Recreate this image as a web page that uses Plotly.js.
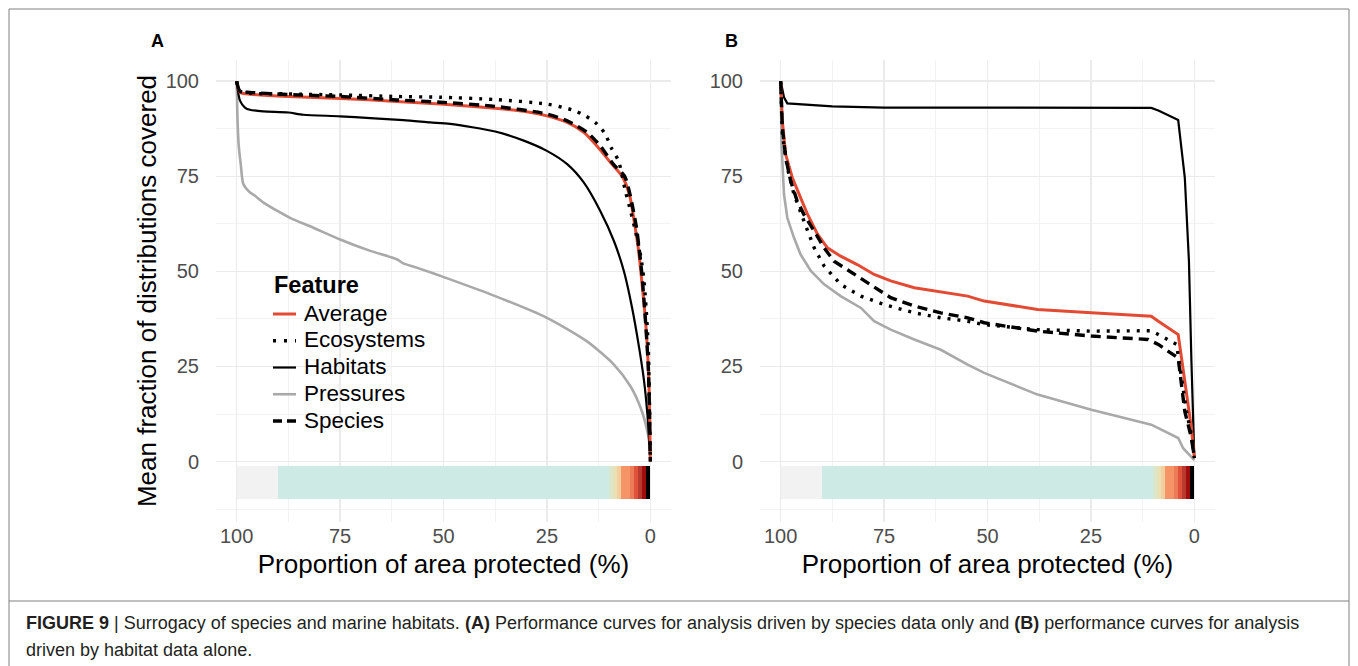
<!DOCTYPE html>
<html>
<head>
<meta charset="utf-8">
<script src="https://cdn.plot.ly/plotly-3.0.1.min.js"></script>
<style>
  html, body { margin: 0; padding: 0; background: #ffffff; }
  #chart { width: 1358px; height: 666px; }
</style>
</head>
<body>
<div id="chart"></div>
<script>
// ---------------- DATA ----------------
// Panel A: analysis driven by species data only
const A_avg_x = [100, 99.2, 97.6, 87.5, 75, 61.3, 50.8, 37.5, 30.6, 25, 20.1, 16.1, 12.9, 9.5, 6.8, 5, 3.8, 2.9, 2.3, 1.2, 0.5, 0.15, 0];
const A_avg_y = [100, 97.1, 96.7, 96, 95.5, 94.7, 94, 92.9, 92.1, 90.9, 89.2, 86.6, 83, 78.5, 75, 70, 62.5, 56, 50, 37.5, 25, 12.5, 0];

const A_eco_x = [100, 99.2, 87.5, 75, 61.3, 50.8, 37.5, 25, 18.6, 15.7, 12.9, 10.9, 9.3, 7.7, 6, 4.8, 3.6, 2.4, 1.6, 1.0, 0.5, 0.2, 0];
const A_eco_y = [100, 97.4, 96.7, 96.4, 96, 95.8, 95.2, 94, 92.4, 90.9, 88.8, 86.1, 82.2, 79.1, 71, 66, 60.6, 54.5, 48.3, 40, 30, 15, 0];

const A_hab_x = [100, 99.2, 98, 96.8, 93.5, 87.5, 83.9, 75, 67.7, 59.7, 53.2, 48.4, 37.5, 30.6, 25, 20.1, 16.1, 12.1, 8.8, 6.4, 4.4, 2.7, 1.5, 0.7, 0.2, 0];
const A_hab_y = [100, 94.9, 93.1, 92.5, 92.1, 91.8, 91.2, 90.8, 90.3, 89.8, 89.2, 88.8, 86.8, 84.4, 81.7, 78.2, 73.4, 65.9, 58, 50.1, 40.4, 29.9, 21.1, 12.3, 4, 0];

const A_pre_x = [100, 99.8, 99.5, 99, 98.4, 97, 95.6, 93.5, 89.5, 87.1, 81.5, 75, 67.7, 61.3, 59.7, 56.5, 48.4, 37.5, 25, 15.3, 8.8, 4.8, 2.3, 0.7, 0];
const A_pre_y = [100, 90, 83, 78, 73, 71, 69.9, 68.1, 65.5, 64.1, 61.5, 58.4, 55.4, 53.2, 52.1, 51, 47.9, 43.5, 37.8, 31.6, 25.5, 19.8, 14, 7.9, 3];

const A_spe_x = [100, 99.2, 96.8, 87.5, 75, 61.3, 50.8, 37.5, 25, 20.1, 15.3, 12.1, 8.8, 6.2, 3.5, 2.1, 1.2, 0.5, 0.2, 0];
const A_spe_y = [100, 97.4, 97.1, 96.5, 96, 95.1, 94.5, 93.4, 91.4, 89.6, 86.6, 83, 78, 75, 62.5, 50, 37.5, 25, 12.5, 0];

// Panel B: analysis driven by habitat data alone
const B_avg_x = [100, 99.6, 98.8, 97.2, 95.2, 93.5, 91.1, 88.7, 85.5, 81.5, 77.4, 73.4, 67.7, 61.3, 54.8, 50.8, 37.9, 24.9, 10.4, 8.7, 3.9, 2.3, 1.1, 0.7, 0];
const B_avg_y = [100, 89.6, 80.8, 74.7, 69.4, 65, 59.8, 56.2, 54, 51.8, 49.2, 47.5, 45.7, 44.6, 43.5, 42.2, 40, 39.1, 38.2, 36.9, 33.4, 21.1, 11.4, 8.8, 0.9];

const B_eco_x = [100, 99.6, 98.4, 96.8, 94.4, 91.9, 89.5, 85.5, 80.6, 75, 67.7, 61.3, 54.8, 50.8, 37.9, 24.9, 10.4, 7.1, 4.3, 3.1, 1.9, 0.7, 0];
const B_eco_y = [100, 86.1, 77.3, 70.3, 63.3, 56.2, 51.4, 46.6, 43.5, 41.3, 39.1, 37.8, 36.9, 36, 34.7, 34.3, 34.4, 32.5, 30.8, 22, 13.2, 7, 0.9];

const B_hab_x = [100, 99.2, 98.4, 93.5, 87.5, 75, 48.4, 10.4, 8.7, 3.9, 2.3, 1.3, 0.7, 0];
const B_hab_y = [100, 95.8, 94.2, 93.8, 93.4, 93.1, 93, 93, 92.3, 89.8, 74.7, 52.7, 26.4, 0.9];

const B_pre_x = [100, 99.8, 99.2, 98.4, 96.8, 95.2, 92.7, 89.5, 85.5, 80.6, 77.4, 73.4, 67.7, 61.3, 54.8, 50.8, 37.9, 24.9, 10.4, 3.9, 2.7, 0];
const B_pre_y = [100, 83.5, 70.3, 64.1, 58.9, 54.5, 50.1, 46.6, 43.5, 40.4, 36.9, 34.7, 32.1, 29.4, 25.5, 23.3, 17.6, 13.6, 9.7, 6.2, 3.5, 0.4];

const B_spe_x = [100, 99.6, 98.8, 97.6, 96, 94.4, 91.9, 89.5, 87.1, 83.9, 80.6, 77.4, 73.4, 67.7, 61.3, 54.8, 50.8, 37.9, 24.9, 11.2, 8.7, 3.9, 2.3, 0.7, 0];
const B_spe_y = [100, 87.9, 80, 73.8, 68.5, 65, 60.6, 56.2, 52.7, 50.5, 48.3, 46.1, 43.1, 40.9, 39.1, 37.8, 36.5, 34.3, 33, 32.1, 30.8, 27.2, 13.2, 6.2, 0.9];

// Priority-rank colour strip (proportion of area, %)
const strip_from = [90, 10, 9, 8, 7, 5, 4, 3, 2, 1, 0];
const strip_to   = [100, 90, 10, 9, 8, 7, 5, 4, 3, 2, 1];
const strip_colors = ['#f2f2f2', '#cdeae5', '#dbe7cc', '#e9e0b6', '#f4cf9e', '#f59467', '#ee7b58', '#e0523a', '#b93a2e', '#a10c0c', '#000000'];

const xTicks = [100, 75, 50, 25, 0];
const yTicks = [0, 25, 50, 75, 100];
const featureNames = ['Average', 'Ecosystems', 'Habitats', 'Pressures', 'Species'];

// ---------------- GEOMETRY ----------------
const W = 1358, H = 666;
const L = 216, R = 1215, T = 60, B = 522;
const px = v => (v - L) / (R - L);
const py = v => (B - v) / (B - T);

const FONT = 'Liberation Sans, Arial, Helvetica, sans-serif';

const styles = {
  Average:    {color: '#e34a33', width: 3, dash: 'solid'},
  Ecosystems: {color: '#000000', width: 3.4, dash: '3px,7px'},
  Habitats:   {color: '#000000', width: 2.2, dash: 'solid'},
  Pressures:  {color: '#a9a9a9', width: 2.6, dash: 'solid'},
  Species:    {color: '#000000', width: 3.4, dash: '10px,6px'}
};
const drawOrder = ['Pressures', 'Habitats', 'Average', 'Species', 'Ecosystems'];

const panels = {
  A: {xa: 'x', ya: 'y', shape: 'spline', data: {
    Average: [A_avg_x, A_avg_y], Ecosystems: [A_eco_x, A_eco_y], Habitats: [A_hab_x, A_hab_y],
    Pressures: [A_pre_x, A_pre_y], Species: [A_spe_x, A_spe_y]}},
  B: {xa: 'x2', ya: 'y2', shape: 'linear', data: {
    Average: [B_avg_x, B_avg_y], Ecosystems: [B_eco_x, B_eco_y], Habitats: [B_hab_x, B_hab_y],
    Pressures: [B_pre_x, B_pre_y], Species: [B_spe_x, B_spe_y]}}
};

const traces = [];
Object.keys(panels).forEach(k => {
  const p = panels[k];
  traces.push({
    type: 'bar', orientation: 'h',
    x: strip_to.map((t, i) => t - strip_from[i]),
    base: strip_from,
    y: strip_from.map(() => -5.45),
    width: strip_from.map(() => 8.8),
    marker: {color: strip_colors, line: {width: 0}},
    xaxis: p.xa, yaxis: p.ya, showlegend: false, hoverinfo: 'skip'
  });
  drawOrder.forEach(name => {
    const s = styles[name];
    traces.push({
      type: 'scatter', mode: 'lines', name: name,
      x: p.data[name][0], y: p.data[name][1],
      xaxis: p.xa, yaxis: p.ya,
      line: {color: s.color, width: s.width, dash: s.dash, shape: p.shape, smoothing: 0.7},
      showlegend: false, hoverinfo: 'x+y+name'
    });
  });
});

function xAxis(domain, anchor) {
  return {
    domain: domain, anchor: anchor, range: [105, -5],
    tickvals: xTicks, ticktext: xTicks.map(String),
    showgrid: true, gridcolor: '#ebebeb', gridwidth: 1.6,
    minor: {tickvals: [87.5, 62.5, 37.5, 12.5], showgrid: true, gridcolor: '#f2f2f2', gridwidth: 0.9, ticks: ''},
    zeroline: false, showline: false, ticks: '', ticklabelstandoff: 0,
    tickfont: {family: FONT, size: 20, color: '#4d4d4d'},
    title: {text: 'Proportion of area protected (%)', font: {family: FONT, size: 26, color: '#000'}, standoff: 8}
  };
}
function yAxis(anchor, withTitle) {
  return {
    domain: [0, 1], anchor: anchor, range: [-15.9, 105.6],
    tickvals: yTicks, ticktext: yTicks.map(String),
    showgrid: true, gridcolor: '#ebebeb', gridwidth: 1.6,
    minor: {tickvals: [-12.5, 12.5, 37.5, 62.5, 87.5], showgrid: true, gridcolor: '#f2f2f2', gridwidth: 0.9, ticks: ''},
    zeroline: false, showline: false, ticks: '', ticklabelstandoff: 16,
    tickfont: {family: FONT, size: 20, color: '#4d4d4d'},
    title: withTitle ? {text: 'Mean fraction of distributions covered', font: {family: FONT, size: 26, color: '#000'}, standoff: 1} : {text: ''}
  };
}

// ---- custom legend (text + sample lines), placed inside panel A ----
const legTitle = {x: 272, y: 285};
const legItems = {x0: 273, x1: 296, tx: 302, y0: 313, dy: 26.75};
const annotations = [
  {text: '<b>Feature</b>', x: px(legTitle.x), y: py(legTitle.y), xref: 'paper', yref: 'paper', showarrow: false,
   xanchor: 'left', yanchor: 'middle', font: {family: FONT, size: 23.5, color: '#000'}}
];
const shapes = [];
featureNames.forEach((name, i) => {
  const yy = legItems.y0 + i * legItems.dy;
  const s = styles[name];
  annotations.push({text: name, x: px(legItems.tx), y: py(yy), xref: 'paper', yref: 'paper', showarrow: false,
    xanchor: 'left', yanchor: 'middle', font: {family: FONT, size: 22.5, color: '#000'}});
  shapes.push({type: 'line', xref: 'paper', yref: 'paper', x0: px(legItems.x0), x1: px(legItems.x1),
    y0: py(yy + 1), y1: py(yy + 1), line: {color: s.color, width: s.width, dash: name === 'Ecosystems' ? '3px,8px' : (name === 'Species' ? '9px,5px' : 'solid')}});
});

annotations.push(
  {text: '<b>A</b>', x: px(157), y: py(41), xref: 'paper', yref: 'paper', showarrow: false,
   xanchor: 'center', yanchor: 'middle', font: {family: FONT, size: 18, color: '#000'}},
  {text: '<b>B</b>', x: px(731), y: py(41), xref: 'paper', yref: 'paper', showarrow: false,
   xanchor: 'center', yanchor: 'middle', font: {family: FONT, size: 18, color: '#000'}},
  {text: '<b>FIGURE 9</b> | Surrogacy of species and marine habitats. <b>(A)</b> Performance curves for analysis driven by species data only and <b>(B)</b> performance curves for analysis',
   x: px(24), y: py(623), xref: 'paper', yref: 'paper', showarrow: false,
   xanchor: 'left', yanchor: 'middle', align: 'left', font: {family: FONT, size: 18, color: '#231f20'}},
  {text: 'driven by habitat data alone.',
   x: px(24), y: py(650), xref: 'paper', yref: 'paper', showarrow: false,
   xanchor: 'left', yanchor: 'middle', align: 'left', font: {family: FONT, size: 18, color: '#231f20'}}
);

const frame = '#808080';
shapes.push(
  {type: 'rect', xref: 'paper', yref: 'paper', x0: px(9), x1: px(1349), y0: py(601), y1: py(9),
   line: {color: frame, width: 1}, fillcolor: 'rgba(0,0,0,0)', layer: 'below'},
  {type: 'line', xref: 'paper', yref: 'paper', x0: px(9), x1: px(9), y0: py(601), y1: py(670),
   line: {color: frame, width: 1}},
  {type: 'line', xref: 'paper', yref: 'paper', x0: px(1349), x1: px(1349), y0: py(601), y1: py(670),
   line: {color: frame, width: 1}}
);

const layout = {
  width: W, height: H,
  margin: {l: L, r: W - R, t: T, b: H - B, pad: 0},
  paper_bgcolor: '#ffffff', plot_bgcolor: '#ffffff',
  font: {family: FONT},
  barmode: 'overlay', bargap: 0,
  xaxis: xAxis([0, px(671)], 'y'),
  yaxis: yAxis('x', true),
  xaxis2: xAxis([px(760), 1], 'y2'),
  yaxis2: yAxis('x2', false),
  showlegend: false,
  annotations: annotations,
  shapes: shapes
};

Plotly.newPlot('chart', traces, layout, {displayModeBar: false, staticPlot: true});
</script>
</body>
</html>
